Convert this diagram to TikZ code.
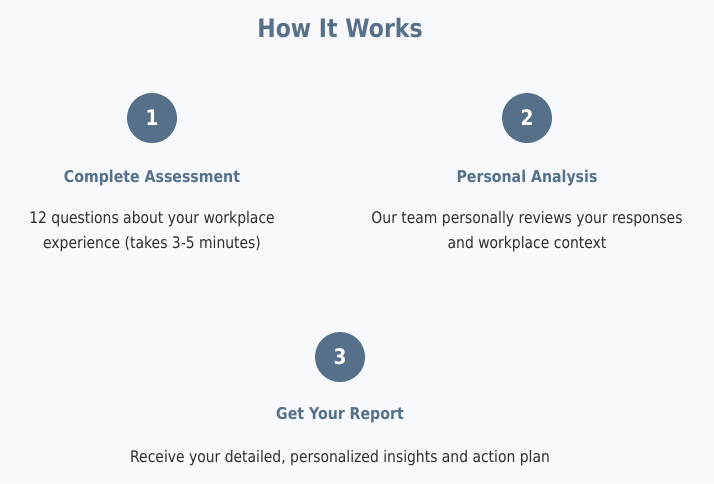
\documentclass[tikz,border=0pt]{standalone}
\usepackage{fontspec}
\setmainfont{DejaVu Sans}[FakeStretch=0.87]
\definecolor{slate}{HTML}{557088}
\definecolor{bgpale}{HTML}{F7F9FD}
\definecolor{ink}{HTML}{2E2E2E}
\begin{document}
\begin{tikzpicture}[x=0.75pt, y=-0.75pt,
  every node/.style={font=\fontsize{12pt}{15pt}\selectfont, text=ink},
  stepnum/.style={circle, fill=slate, minimum size=37.5pt, inner sep=0pt, text=white, font=\fontsize{16pt}{18pt}\selectfont\bfseries},
  steptitle/.style={text=slate, font=\fontsize{12.2pt}{14pt}\selectfont\bfseries},
  stepdesc/.style={align=center, font=\fontsize{12pt}{18.75pt}\selectfont}]
\fill[bgpale] (0,0) rectangle (714,483);
\useasboundingbox (0,0) rectangle (714,483);
% Title
\node[text=slate, font=\fontsize{19pt}{22pt}\selectfont\bfseries] (title) at (340,28) {How It Works};
% Step 1
\node[stepnum] (num1) at (152,118) {1};
\node[steptitle] (head1) at (152,178) {Complete Assessment};
\node[stepdesc] (desc1) at (152,232) {12 questions about your workplace\\experience (takes 3-5 minutes)};
% Step 2
\node[stepnum] (num2) at (527,118) {2};
\node[steptitle] (head2) at (527,178) {Personal Analysis};
\node[stepdesc] (desc2) at (527,232) {Our team personally reviews your responses\\and workplace context};
% Step 3
\node[stepnum] (num3) at (340,357) {3};
\node[steptitle] (head3) at (340,415) {Get Your Report};
\node[stepdesc] (desc3) at (340,458.5) {Receive your detailed, personalized insights and action plan};
\end{tikzpicture}
\end{document}
